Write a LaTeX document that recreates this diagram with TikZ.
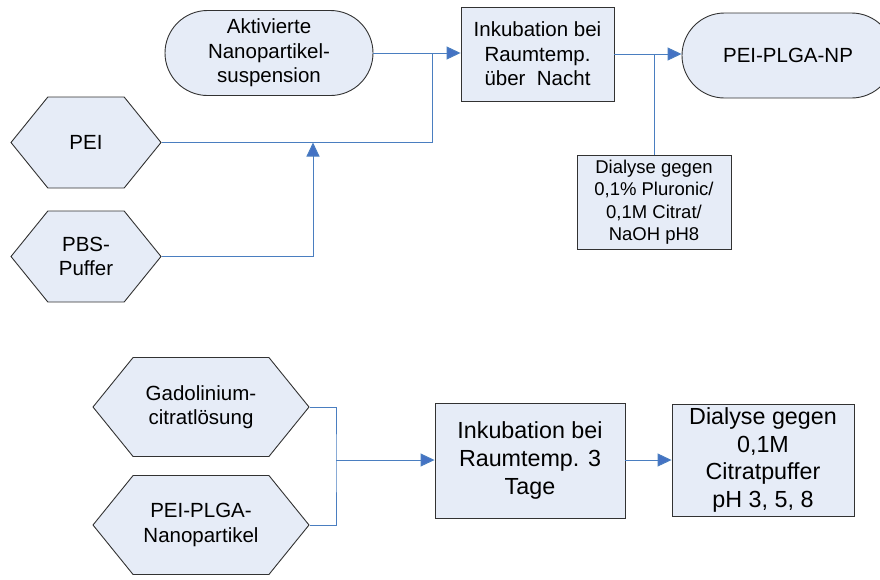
\documentclass[tikz,border=0pt]{standalone}
\usepackage{fontspec}
\setmainfont{Liberation Sans}
\usetikzlibrary{shapes.misc,shapes.symbols,arrows.meta}

\definecolor{boxfill}{RGB}{230,236,247}
\definecolor{boxline}{RGB}{50,50,50}
\definecolor{flow}{RGB}{74,126,192}
\definecolor{tip}{RGB}{68,114,196}

\tikzset{
  base/.style={draw=boxline, fill=boxfill, line width=0.9pt, inner sep=0pt, align=center},
  terminal/.style={base, rounded rectangle, minimum height=85pt},
  stepbox/.style={base, rectangle},
  source/.style={base, signal, signal to=west and east, signal pointer angle=102},
  big/.style={font=\fontsize{20.5}{24.5}\selectfont},
  small/.style={font=\fontsize{18.5}{22.5}\selectfont},
  large/.style={font=\fontsize{23.3}{27.8}\selectfont},
  line/.style={draw=flow, line width=1pt},
  arrow/.style={line, -{Triangle[length=14pt,width=13pt,fill=tip]}}
}

\begin{document}
\begin{tikzpicture}[x=1pt, y=-1pt]
\useasboundingbox (0,0) rectangle (880,579);
\clip (0,0) rectangle (880,579);

% upper process: coating with PEI
\node[terminal, big, minimum width=208pt] (akt) at (269,53) {Aktivierte\\Nanopartikel-\\suspension};
\node[stepbox, big, minimum width=153pt, minimum height=94pt] (ink1) at (537.5,54) {Inkubation bei\\Raumtemp.\\über~ Nacht};
\node[terminal, big, minimum width=212pt] (np) at (788,55.5) {PEI-PLGA-NP};
\node[stepbox, small, minimum width=154pt, minimum height=94pt] (dia1) at (654,202) {Dialyse gegen\\0,1\% Pluronic/\\0,1M Citrat/\\NaOH pH8};
\node[source, big, minimum width=150pt, minimum height=91pt] (pei) at (86,142.5) {PEI};
\node[source, big, minimum width=150pt, minimum height=91pt] (pbs) at (86,256.5) {PBS-\\Puffer};

\coordinate (j1) at (432,53);
\coordinate (j2) at (313,142.5);
\coordinate (j3) at (654,54);

\draw[arrow] (akt.east) -- (ink1.west |- akt.east);
\draw[line] (pei.east) -| (j1);
\draw[arrow] (pbs.east) -| (j2);
\draw[arrow] (ink1.east) -- (np.west |- ink1.east);
\draw[line] (dia1.north) -- (j3);

% lower process: loading with gadolinium
\node[source, big, minimum width=216pt, minimum height=99pt] (gad) at (201,407) {Gadolinium-\\citratlösung};
\node[source, big, minimum width=216pt, minimum height=99pt] (pnp) at (201,525) {PEI-PLGA-\\Nanopartikel};
\node[stepbox, large, minimum width=190pt, minimum height=115pt] (ink2) at (530,460.5) {Inkubation bei\\Raumtemp. 3\\Tage};
\node[stepbox, large, minimum width=182pt, minimum height=112pt] (dia2) at (763,460) {Dialyse gegen\\0,1M\\Citratpuffer\\pH 3, 5, 8};

\coordinate (j4) at (336,460);

\draw[line] (gad.east) -| (j4) |- (pnp.east);
\draw[arrow] (j4) -- (ink2.west |- j4);
\draw[arrow] (ink2.east |- j4) -- (dia2.west |- j4);
\end{tikzpicture}
\end{document}
